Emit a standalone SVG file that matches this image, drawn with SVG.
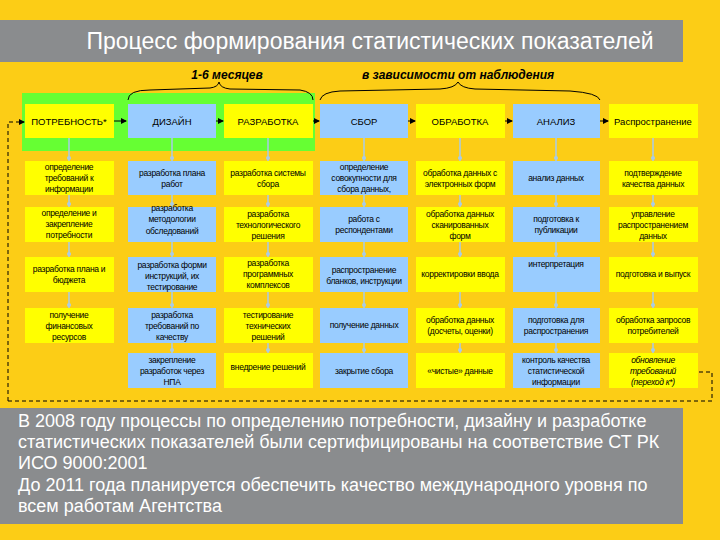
<svg xmlns="http://www.w3.org/2000/svg" width="720" height="540" viewBox="0 0 720 540">
<defs>
<style>
.y{fill:#FFFF00}.b{fill:#99CCFF}
.t{font-family:"Liberation Sans",Arial,sans-serif;font-size:8.5px;fill:#000;text-anchor:middle;letter-spacing:-0.3px}
.h{font-family:"Liberation Sans",Arial,sans-serif;font-size:9.5px;fill:#000;text-anchor:middle}
.c{stroke:#A8CCE8;stroke-width:1.5;fill:none}
.d{fill:#A8CCE8}
.a{stroke:#000;stroke-width:1;fill:none}
.br{stroke:#000;stroke-width:1;fill:none}
.lab{font-family:"Liberation Sans",Arial,sans-serif;font-size:12px;font-weight:bold;font-style:italic;text-anchor:middle}
.w{font-family:"Liberation Sans",Arial,sans-serif;font-size:18px;fill:#fff}
</style>
<marker id="ar" markerWidth="6" markerHeight="6" refX="5" refY="3" orient="auto"><path d="M0,0 L6,3 L0,6 z" fill="#000"/></marker>
</defs>
<rect width="720" height="540" fill="#FCCD16"/>
<rect x="0" y="20" width="683" height="42" fill="#8A8C8E"/>
<text x="370" y="49" font-family="Liberation Sans,Arial,sans-serif" font-size="23" fill="#fff" text-anchor="middle">Процесс формирования статистических показателей</text>
<rect x="22" y="93" width="293" height="58" fill="#66FF33"/>
<text class="lab" x="227" y="79">1-6 месяцев</text>
<text class="lab" x="458" y="79">в зависимости от наблюдения</text>
<path class="br" d="M128,100 Q128,90 150,90 L210,88 Q218,87 219,82 Q220,88 230,89 L300,90 Q313,92 313,100"/>
<path class="br" d="M320,100 Q322,92 340,91 L440,89 Q455,88 458,82 Q461,88 475,89 L570,91 Q598,93 600,100"/>
<g id="connectors">
<path class="a" d="M8,401 L8,122 L24,122" stroke-dasharray="4,3" stroke-width="1.5" marker-end="url(#ar)"/>
<path class="a" d="M8,401 L712,401 L712,372 L698,372" stroke-dasharray="4,3" stroke-width="1.5"/>
<path class="a" d="M114,121 L126,121" marker-end="url(#ar)"/>
<path class="a" d="M216,121 L223,121" marker-end="url(#ar)"/>
<path class="a" d="M313,121 L319,121" marker-end="url(#ar)"/>
<path class="a" d="M408,121 L415,121" marker-end="url(#ar)"/>
<path class="a" d="M505,121 L512,121" marker-end="url(#ar)"/>
<path class="a" d="M600,121 L608,121" marker-end="url(#ar)"/>
<path class="c" d="M69,138V161M69,195V207M69,242V257M69,292V308"/>
<path class="c" d="M172,138V161M172,195V207M172,242V257M172,292V308M172,343V353"/>
<path class="c" d="M268,138V161M268,195V207M268,242V257M268,292V308M268,343V353"/>
<path class="c" d="M364,138V161M364,195V207M364,242V257M364,292V308M364,343V353"/>
<path class="c" d="M460,138V161M460,195V207M460,242V257M460,292V308M460,343V353"/>
<path class="c" d="M556,138V161M556,195V207M556,242V257M556,292V308M556,343V353"/>
<path class="c" d="M653,138V161M653,195V207M653,242V257M653,292V308M653,343V353"/>
<g class="d">
<circle cx="69" cy="158" r="2"/><circle cx="69" cy="204" r="2"/><circle cx="69" cy="254" r="2"/><circle cx="69" cy="305" r="2"/>
<circle cx="172" cy="158" r="2"/><circle cx="172" cy="204" r="2"/><circle cx="172" cy="254" r="2"/><circle cx="172" cy="305" r="2"/><circle cx="172" cy="350" r="2"/>
<circle cx="268" cy="158" r="2"/><circle cx="268" cy="204" r="2"/><circle cx="268" cy="254" r="2"/><circle cx="268" cy="305" r="2"/><circle cx="268" cy="350" r="2"/>
<circle cx="364" cy="158" r="2"/><circle cx="364" cy="204" r="2"/><circle cx="364" cy="254" r="2"/><circle cx="364" cy="305" r="2"/><circle cx="364" cy="350" r="2"/>
<circle cx="460" cy="158" r="2"/><circle cx="460" cy="204" r="2"/><circle cx="460" cy="254" r="2"/><circle cx="460" cy="305" r="2"/><circle cx="460" cy="350" r="2"/>
<circle cx="556" cy="158" r="2"/><circle cx="556" cy="204" r="2"/><circle cx="556" cy="254" r="2"/><circle cx="556" cy="305" r="2"/><circle cx="556" cy="350" r="2"/>
<circle cx="653" cy="158" r="2"/><circle cx="653" cy="204" r="2"/><circle cx="653" cy="254" r="2"/><circle cx="653" cy="305" r="2"/><circle cx="653" cy="350" r="2"/>
</g>
</g>
<g id="h1"><rect class="y" x="25" y="104" width="89" height="34"/><text class="h" x="69" y="125">ПОТРЕБНОСТЬ*</text></g>
<g id="h2"><rect class="b" x="128" y="104" width="88" height="34"/><text class="h" x="172" y="125">ДИЗАЙН</text></g>
<g id="h3"><rect class="y" x="224" y="104" width="89" height="34"/><text class="h" x="268" y="125">РАЗРАБОТКА</text></g>
<g id="h4"><rect class="b" x="320" y="104" width="88" height="34"/><text class="h" x="364" y="125">СБОР</text></g>
<g id="h5"><rect class="y" x="416" y="104" width="89" height="34"/><text class="h" x="460" y="125">ОБРАБОТКА</text></g>
<g id="h6"><rect class="b" x="513" y="104" width="87" height="34"/><text class="h" x="556" y="125">АНАЛИЗ</text></g>
<g id="h7"><rect class="y" x="609" y="104" width="89" height="34"/><text class="h" x="653" y="125">Распространение</text></g>
<g id="r1c1"><rect class="y" x="25" y="161" width="89" height="34"/><text class="t" x="69" y="170">определение</text><text class="t" x="69" y="181">требований к</text><text class="t" x="69" y="192">информации</text></g>
<g id="r1c2"><rect class="b" x="128" y="161" width="88" height="34"/><text class="t" x="172" y="176">разработка плана</text><text class="t" x="172" y="187">работ</text></g>
<g id="r1c3"><rect class="y" x="224" y="161" width="89" height="34"/><text class="t" x="268" y="176">разработка системы</text><text class="t" x="268" y="187">сбора</text></g>
<g id="r1c4"><rect class="b" x="320" y="161" width="88" height="34"/><text class="t" x="364" y="170">определение</text><text class="t" x="364" y="181">совокупности для</text><text class="t" x="364" y="192">сбора данных,</text></g>
<g id="r1c5"><rect class="y" x="416" y="161" width="89" height="34"/><text class="t" x="460" y="176">обработка данных с</text><text class="t" x="460" y="187">электронных форм</text></g>
<g id="r1c6"><rect class="b" x="513" y="161" width="87" height="34"/><text class="t" x="556" y="181">анализ данных</text></g>
<g id="r1c7"><rect class="y" x="609" y="161" width="89" height="34"/><text class="t" x="653" y="176">подтверждение</text><text class="t" x="653" y="187">качества данных</text></g>
<g id="r2c1"><rect class="y" x="25" y="207" width="89" height="35"/><text class="t" x="69" y="216">определение и</text><text class="t" x="69" y="227">закрепление</text><text class="t" x="69" y="238">потребности</text></g>
<g id="r2c2"><rect class="b" x="128" y="207" width="88" height="35"/><text class="t" x="172" y="211">разработка</text><text class="t" x="172" y="222">методологии</text><text class="t" x="172" y="234">обследований</text></g>
<g id="r2c3"><rect class="y" x="224" y="207" width="89" height="35"/><text class="t" x="268" y="217">разработка</text><text class="t" x="268" y="228">технологического</text><text class="t" x="268" y="239">решения</text></g>
<g id="r2c4"><rect class="b" x="320" y="207" width="88" height="35"/><text class="t" x="364" y="222">работа с</text><text class="t" x="364" y="233">респондентами</text></g>
<g id="r2c5"><rect class="y" x="416" y="207" width="89" height="35"/><text class="t" x="460" y="217">обработка данных</text><text class="t" x="460" y="228">сканированных</text><text class="t" x="460" y="239">форм</text></g>
<g id="r2c6"><rect class="b" x="513" y="207" width="87" height="35"/><text class="t" x="556" y="222">подготовка к</text><text class="t" x="556" y="233">публикации</text></g>
<g id="r2c7"><rect class="y" x="609" y="207" width="89" height="35"/><text class="t" x="653" y="217">управление</text><text class="t" x="653" y="228">распространением</text><text class="t" x="653" y="239">данных</text></g>
<g id="r3c1"><rect class="y" x="25" y="257" width="89" height="35"/><text class="t" x="69" y="272">разработка плана и</text><text class="t" x="69" y="283">бюджета</text></g>
<g id="r3c2"><rect class="b" x="128" y="257" width="88" height="35"/><text class="t" x="172" y="268">разработка форми</text><text class="t" x="172" y="279">инструкций, их</text><text class="t" x="172" y="290">тестирование</text></g>
<g id="r3c3"><rect class="y" x="224" y="257" width="89" height="35"/><text class="t" x="268" y="266">разработка</text><text class="t" x="268" y="277">программных</text><text class="t" x="268" y="288">комплексов</text></g>
<g id="r3c4"><rect class="b" x="320" y="257" width="88" height="35"/><text class="t" x="364" y="273">распространение</text><text class="t" x="364" y="284">бланков, инструкции</text></g>
<g id="r3c5"><rect class="y" x="416" y="257" width="89" height="35"/><text class="t" x="460" y="277">корректировки ввода</text></g>
<g id="r3c6"><rect class="b" x="513" y="257" width="87" height="35"/><text class="t" x="556" y="267">интерпретация</text></g>
<g id="r3c7"><rect class="y" x="609" y="257" width="89" height="35"/><text class="t" x="653" y="277">подготовка и выпуск</text></g>
<g id="r4c1"><rect class="y" x="25" y="308" width="89" height="35"/><text class="t" x="69" y="318">получение</text><text class="t" x="69" y="329">финансовых</text><text class="t" x="69" y="340">ресурсов</text></g>
<g id="r4c2"><rect class="b" x="128" y="308" width="88" height="35"/><text class="t" x="172" y="318">разработка</text><text class="t" x="172" y="329">требований по</text><text class="t" x="172" y="340">качеству</text></g>
<g id="r4c3"><rect class="y" x="224" y="308" width="89" height="35"/><text class="t" x="268" y="318">тестирование</text><text class="t" x="268" y="329">технических</text><text class="t" x="268" y="340">решений</text></g>
<g id="r4c4"><rect class="b" x="320" y="308" width="88" height="35"/><text class="t" x="364" y="328">получение данных</text></g>
<g id="r4c5"><rect class="y" x="416" y="308" width="89" height="35"/><text class="t" x="460" y="323">обработка данных</text><text class="t" x="460" y="334">(досчеты, оценки)</text></g>
<g id="r4c6"><rect class="b" x="513" y="308" width="87" height="35"/><text class="t" x="556" y="323">подготовка для</text><text class="t" x="556" y="334">распространения</text></g>
<g id="r4c7"><rect class="y" x="609" y="308" width="89" height="35"/><text class="t" x="653" y="323">обработка запросов</text><text class="t" x="653" y="334">потребителей</text></g>
<g id="r5c2"><rect class="b" x="128" y="353" width="88" height="35"/><text class="t" x="172" y="363">закрепление</text><text class="t" x="172" y="374">разработок через</text><text class="t" x="172" y="385">НПА</text></g>
<g id="r5c3"><rect class="y" x="224" y="353" width="89" height="35"/><text class="t" x="268" y="370">внедрение решений</text></g>
<g id="r5c4"><rect class="b" x="320" y="353" width="88" height="35"/><text class="t" x="364" y="374">закрытие сбора</text></g>
<g id="r5c5"><rect class="y" x="416" y="353" width="89" height="35"/><text class="t" x="460" y="374">«чистые» данные</text></g>
<g id="r5c6"><rect class="b" x="513" y="353" width="87" height="35"/><text class="t" x="556" y="363">контроль качества</text><text class="t" x="556" y="374">статистической</text><text class="t" x="556" y="385">информации</text></g>
<g id="r5c7"><rect class="y" x="609" y="353" width="89" height="35"/><text class="t" x="653" y="363" font-style="italic">обновление</text><text class="t" x="653" y="374" font-style="italic">требований</text><text class="t" x="653" y="385" font-style="italic">(переход к*)</text></g>
<rect x="0" y="408" width="683" height="116" fill="#8A8C8E"/>
<text class="w" x="18" y="427">В 2008 году процессы по определению потребности, дизайну и разработке</text>
<text class="w" x="18" y="448">статистических показателей были сертифицированы на соответствие СТ РК</text>
<text class="w" x="18" y="469">ИСО 9000:2001</text>
<text class="w" x="18" y="491">До 2011 года планируется обеспечить качество международного уровня по</text>
<text class="w" x="18" y="512">всем работам Агентства</text>
</svg>
